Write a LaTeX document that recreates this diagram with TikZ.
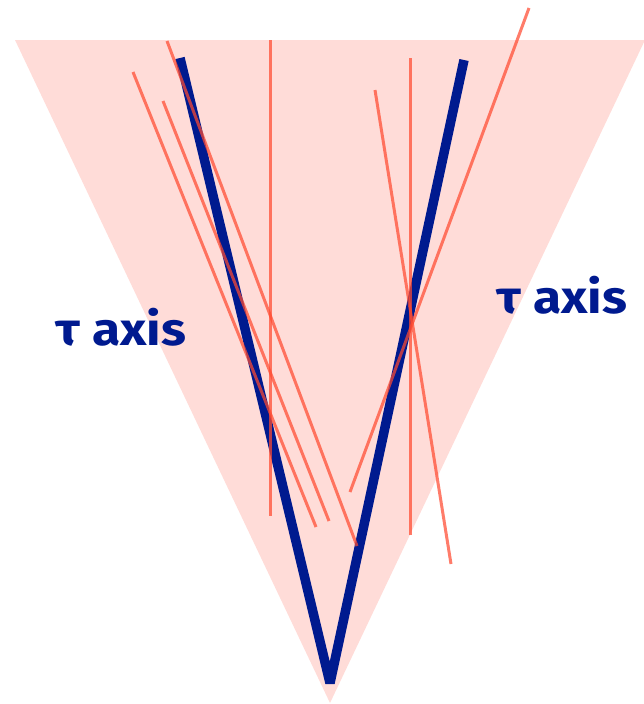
\documentclass[tikz,border=0pt]{standalone}
\usepackage{fontspec}
\setmainfont{Fira Sans}
\definecolor{conepink}{HTML}{FFDCD8}
\definecolor{raycol}{HTML}{FF4A30}
\definecolor{vblue}{HTML}{001A8F}
\begin{document}
\begin{tikzpicture}[x=1pt,y=-1pt,
  ray/.style={draw=raycol,line width=3pt,opacity=0.72},
  vline/.style={draw=vblue,line width=9.5pt,line join=bevel},
  lbl/.style={text=vblue,font=\fontsize{46}{46}\selectfont\bfseries,inner sep=0pt,anchor=base west,xscale=1.12,transform shape}]
\useasboundingbox (0,0) rectangle (643,704);
\coordinate (tl) at (15,40);
\coordinate (tr) at (645,40);
\coordinate (apex) at (330,703);
\fill[conepink] (tl) -- (tr) -- (apex) -- cycle;
% blue V
\coordinate (vl) at (180,58);
\coordinate (vb) at (330,683);
\coordinate (vr) at (464,60);
\draw[vline] (vl) -- (vb) -- (vr);
% rays
\coordinate (a1) at (270,40);  \coordinate (b1) at (270,516);
\coordinate (a2) at (410,58);  \coordinate (b2) at (410,535);
\coordinate (a3) at (167,41);  \coordinate (b3) at (357,546);
\coordinate (a4) at (133,72);  \coordinate (b4) at (316,527);
\coordinate (a5) at (163,101); \coordinate (b5) at (329,521);
\coordinate (a6) at (529,8);   \coordinate (b6) at (350,492);
\coordinate (a7) at (375,90);  \coordinate (b7) at (451,564);
\foreach \i in {1,...,7} {\draw[ray] (a\i) -- (b\i);}
% labels
\node[lbl] (lleft) at (55,345) {τ axis};
\node[lbl] (lright) at (496,313) {τ axis};
\end{tikzpicture}
\end{document}
